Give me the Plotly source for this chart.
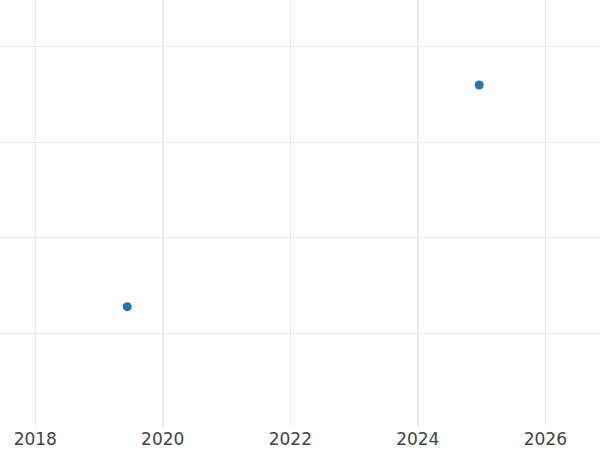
import plotly.graph_objects as go

dates = ["2019-06-12", "2024-12-18"]
values = [1.28, 3.6]

x_range = ["2017-06-13", "2026-11-10"]
y_range = [0.02, 4.49]

fig = go.Figure()
fig.add_trace(go.Scatter(
    x=dates, y=values, mode="markers",
    marker=dict(color="#1f77b4", size=9),
    showlegend=False, hoverinfo="skip",
))
# invisible trace on overlay axis so its grid is drawn
fig.add_trace(go.Scatter(
    x=dates, y=values, mode="markers", xaxis="x2",
    marker=dict(opacity=0), showlegend=False, hoverinfo="skip",
))

fig.update_layout(
    width=600, height=450,
    margin=dict(l=0, r=0, t=0, b=23),
    paper_bgcolor="white", plot_bgcolor="white",
    font=dict(family="DejaVu Sans", size=17, color="#444"),
    xaxis=dict(
        type="date", range=x_range, dtick="M24", tick0="2018-01-01",
        tickformat="%Y", showgrid=True, gridcolor="#ebebeb", gridwidth=1,
        zeroline=False, showline=False, ticks="",
    ),
    xaxis2=dict(
        type="date", overlaying="x", matches="x", range=x_range,
        dtick="M48", tick0="2020-01-01", showgrid=True,
        gridcolor="#ebebeb", gridwidth=2, showticklabels=False,
        zeroline=False, showline=False, ticks="",
    ),
    yaxis=dict(
        range=y_range, dtick=1, tick0=0, showticklabels=False,
        showgrid=True, gridcolor="#ebebeb", gridwidth=1,
        zeroline=False, showline=False, ticks="",
    ),
)

fig.write_html(
    "out.html",
    config={"displayModeBar": False},
    post_script="document.body.style.margin='0';document.body.style.overflow='hidden';",
)
